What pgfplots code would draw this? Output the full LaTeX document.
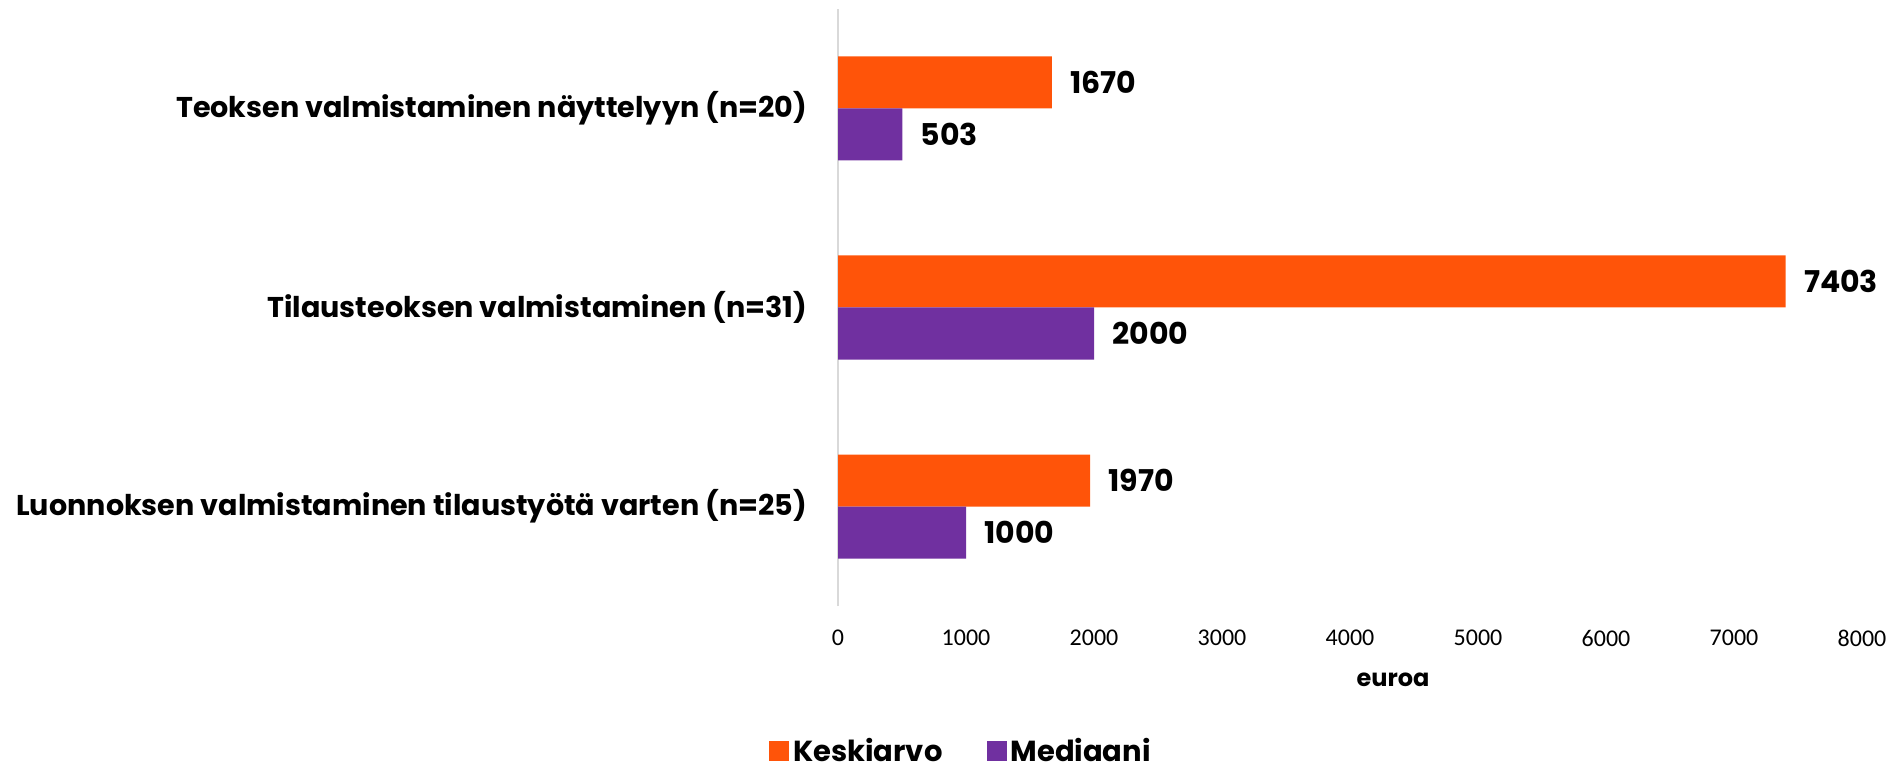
\documentclass[border=0pt]{standalone}
\usepackage{fontspec}
\setmainfont{Lato}
\newfontfamily\carlito{Carlito}
\newfontfamily\pop{Poppins}
\usepackage{pgfplots}
\pgfplotsset{compat=1.18}
\definecolor{cOrange}{HTML}{FF5409}
\definecolor{cPurple}{HTML}{7030A0}
\definecolor{cAxis}{HTML}{D9D9D9}
\begin{document}
\begin{tikzpicture}
\path[use as bounding box] (0,0) rectangle (949pt,385.5pt);
\begin{axis}[
  at={(419pt,82.5pt)}, anchor=south west,
  width=512pt, height=298.5pt, scale only axis,
  xbar, bar width=26pt, clip=false,
  xmin=0, xmax=8000, ymin=-0.5, ymax=2.5,
  xtick={0,1000,...,8000},
  scaled x ticks=false,
  /pgf/number format/1000 sep={},
  /pgf/number format/assume math mode=true,
  ytick={0,1,2},
  yticklabels={Luonnoksen valmistaminen tilaustyötä varten (n=25),Tilausteoksen valmistaminen (n=31),Teoksen valmistaminen näyttelyyn (n=20)},
  axis lines*=left,
  x axis line style={draw=none},
  y axis line style={draw=cAxis, line width=1pt},
  major tick length=0pt,
  xticklabel style={font=\carlito\fontsize{12}{14}\selectfont, yshift=-8.5pt},
  yticklabel style={font=\pop\bfseries\fontsize{14.3}{18}\selectfont, anchor=east, xshift=-12pt},
  xlabel={euroa},
  xlabel style={at={(axis description cs:0.542,-0.124)}, anchor=center, font=\pop\bfseries\fontsize{12}{14}\selectfont},
  nodes near coords={\pgfmathprintnumber[1000 sep={}]{\pgfplotspointmeta}},
  every node near coord/.append style={font=\pop\bfseries\fontsize{15}{18}\selectfont, anchor=west, inner sep=0pt, xshift=9pt, text=black},
  legend columns=2,
  legend style={at={(axis description cs:0.121,-0.243)}, anchor=center, draw=none,
    font=\pop\bfseries\fontsize{14.5}{16}\selectfont,
    /tikz/every even column/.append style={column sep=20pt}},
  legend image code/.code={\fill[#1] (0pt,-5pt) rectangle (10pt,5pt);},
]
\addplot[fill=cOrange, draw=none, bar shift=13pt] coordinates {(1970,0) (7403,1) (1670,2)};
\addplot[fill=cPurple, draw=none, bar shift=-13pt] coordinates {(1000,0) (2000,1) (503,2)};
\legend{Keskiarvo, Mediaani}
\end{axis}
\end{tikzpicture}
\end{document}
